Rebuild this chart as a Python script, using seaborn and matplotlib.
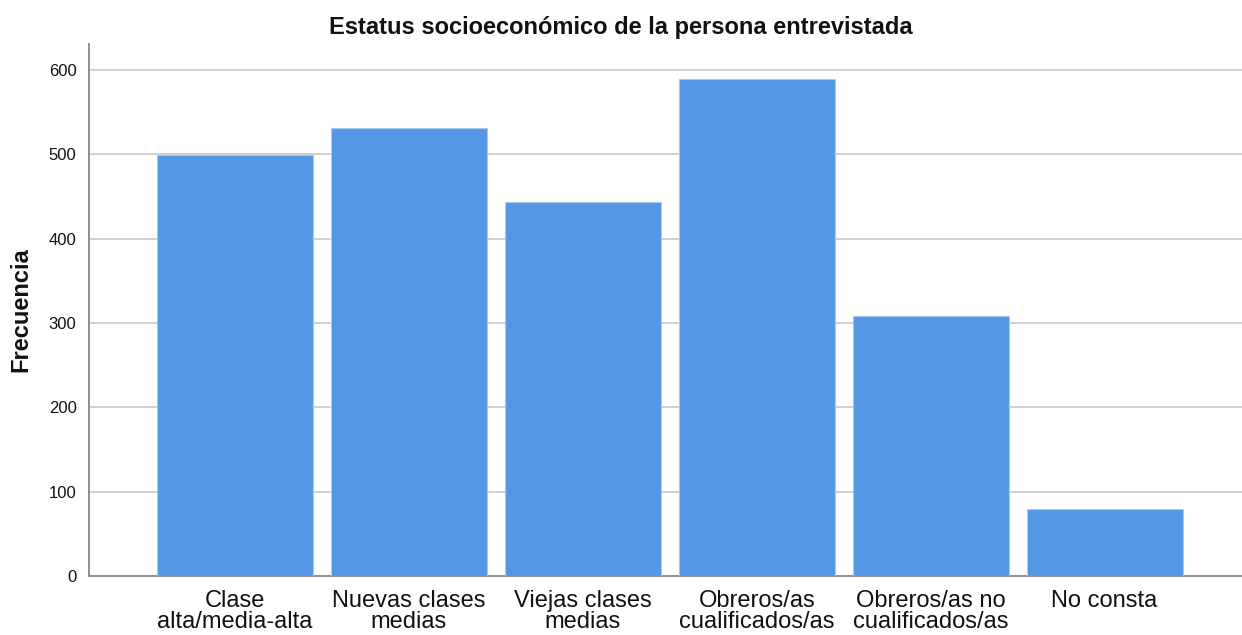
import matplotlib
matplotlib.use("Agg")
import matplotlib.pyplot as plt
import seaborn as sns
import pandas as pd

categories = ["Clase\nalta/media-alta", "Nuevas clases\nmedias", "Viejas clases\nmedias",
              "Obreros/as\ncualificados/as", "Obreros/as no\ncualificados/as", "No consta"]
frecuencia = [499, 531, 444, 590, 308, 80]
yticks = [0, 100, 200, 300, 400, 500, 600]

sns.set_theme(style="white")
plt.rcParams['font.family'] = ['Liberation Sans', 'DejaVu Sans']

df = pd.DataFrame({"cat": categories, "freq": frecuencia})

fig = plt.figure(figsize=(12.42, 6.35), dpi=100)
ax = fig.add_axes([0.0717, 0.0929, 0.9283, 0.8378])
sns.barplot(data=df, x="cat", y="freq", color="#5596E6", width=0.897, saturation=1,
            edgecolor="#a9c9f2", linewidth=0.8, ax=ax, zorder=3)
ax.set_xlim(-0.84, 5.79)
ax.set_ylim(0, 631)
ax.set_yticks(yticks)
ax.yaxis.grid(True, color="#c8c8c8", linewidth=1.2, zorder=0)
ax.set_axisbelow(True)
for s in ["top", "right"]:
    ax.spines[s].set_visible(False)
ax.spines["left"].set_color("#888888")
ax.spines["bottom"].set_color("#888888")
ax.spines["left"].set_linewidth(1.3)
ax.spines["bottom"].set_linewidth(1.3)
ax.tick_params(axis="y", labelsize=12, length=0, pad=9, colors="#111111")
ax.tick_params(axis="x", labelsize=17, length=0, pad=10, colors="#111111")
for lab in ax.get_xticklabels():
    lab.set_linespacing(0.95)
ax.set_xlabel("")
ax.set_ylabel("Frecuencia", fontsize=17, fontweight="bold", labelpad=12, color="#111111")
fig.suptitle("Estatus socioeconómico de la persona entrevistada", fontsize=17,
             fontweight="bold", x=0.5, y=0.975, color="#111111")
fig.savefig("out.png", dpi=100)
